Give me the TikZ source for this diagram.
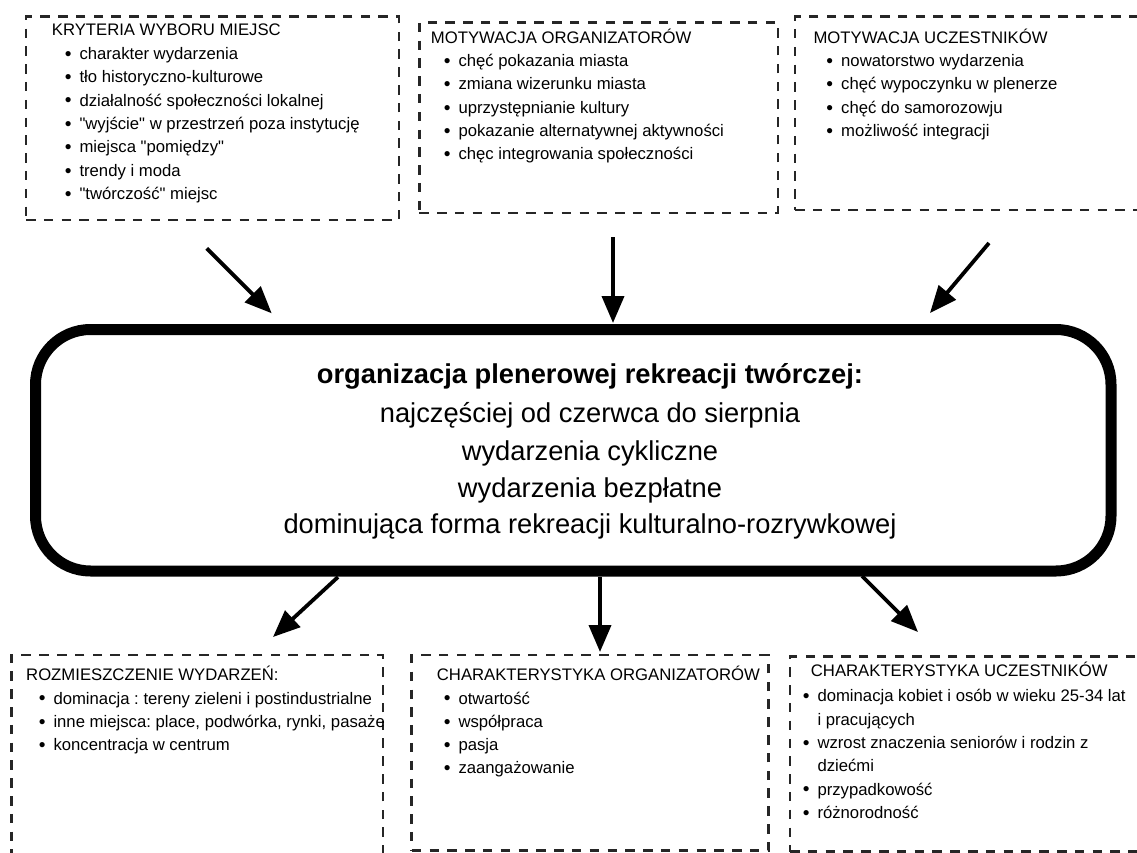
\documentclass[tikz,border=0pt]{standalone}
\usepackage{fontspec}
\setmainfont{Liberation Sans}
\usetikzlibrary{arrows.meta}
\newcommand{\blt}{\llap{\raisebox{-0.9pt}{\scalebox{1.15}{\textbullet}}\hspace{8pt}}}
\newcommand{\q}{\textquotedbl}
\frenchspacing
\begin{document}
\begin{tikzpicture}[x=1pt,y=-1pt,
  dbox/.style={draw=black!85, line width=2.6pt, dash pattern=on 9.5pt off 8.3pt, anchor=north west, inner sep=0pt, outer sep=0pt},
  txt/.style={anchor=base west, inner sep=0pt, font=\fontsize{16.7}{20}\selectfont},
  ctxt/.style={anchor=base, inner sep=0pt, font=\fontsize{27.3}{32}\selectfont},
  mainbox/.style={draw=black, line width=11pt, rounded corners=55pt, inner sep=0pt, outer sep=0pt},
  arr/.style={line width=3.8pt, -{Triangle[length=27pt,width=22pt]}}
]
\useasboundingbox (0,0) rectangle (1137,853);

% dashed boxes
\node[dbox, minimum width=373pt, minimum height=203.3pt] (b1) at (26,16.7) {};
\node[dbox, minimum width=358.7pt, minimum height=190.3pt] (b2) at (419.3,22.7) {};
\node[dbox, minimum width=360pt, minimum height=193.3pt] (b3) at (795,16.7) {};
\node[dbox, minimum width=371.3pt, minimum height=220pt] (b4) at (11.7,655) {};
\node[dbox, minimum width=356.6pt, minimum height=195.7pt] (b5) at (411.7,655) {};
\node[dbox, minimum width=360pt, minimum height=195pt] (b6) at (790,656.7) {};

% box 1
\node[txt] (h1) at (51.7,35.7) {KRYTERIA WYBORU MIEJSC};
\foreach \t [count=\i] in {charakter wydarzenia, tło historyczno-kulturowe, działalność społeczności lokalnej, \q wyjście\q{} w przestrzeń poza instytucję, miejsca \q pomiędzy\q, trendy i moda, \q twórczość\q{} miejsc}
  \node[txt] (i1-\i) at (79.3,{59.3+23.4*(\i-1)}) {\blt\t};

% box 2
\node[txt] (h2) at (430.7,43.3) {MOTYWACJA ORGANIZATORÓW};
\foreach \t [count=\i] in {chęć pokazania miasta, zmiana wizerunku miasta, uprzystępnianie kultury, pokazanie alternatywnej aktywności, chęc integrowania społeczności}
  \node[txt] (i2-\i) at (458.3,{66.7+23.3*(\i-1)}) {\blt\t};

% box 3
\node[txt] (h3) at (813.3,43.3) {MOTYWACJA UCZESTNIKÓW};
\foreach \t [count=\i] in {nowatorstwo wydarzenia, chęć wypoczynku w plenerze, chęć do samorozowju, możliwość integracji}
  \node[txt] (i3-\i) at (841,{66.7+23.3*(\i-1)}) {\blt\t};

% box 4
\node[txt] (h4) at (26,680) {ROZMIESZCZENIE WYDARZEŃ:};
\foreach \t [count=\i] in {dominacja : tereny zieleni i postindustrialne, {inne miejsca: place, podwórka, rynki, pasaże}, koncentracja w centrum}
  \node[txt] (i4-\i) at (53.3,{704+23.3*(\i-1)}) {\blt\t};

% box 5
\node[txt] (h5) at (436.7,680) {CHARAKTERYSTYKA ORGANIZATORÓW};
\foreach \t [count=\i] in {otwartość, współpraca, pasja, zaangażowanie}
  \node[txt] (i5-\i) at (458.3,{704+23.3*(\i-1)}) {\blt\t};

% box 6
\node[txt] (h6) at (810.7,676.7) {CHARAKTERYSTYKA UCZESTNIKÓW};
\node[txt] (i6-1) at (817.3,701.7) {\blt dominacja kobiet i osób w wieku 25-34 lat};
\node[txt] (i6-1b) at (817.3,725) {i pracujących};
\node[txt] (i6-2) at (817.3,748.3) {\blt wzrost znaczenia seniorów i rodzin z};
\node[txt] (i6-2b) at (817.3,771.7) {dziećmi};
\node[txt] (i6-3) at (817.3,795) {\blt przypadkowość};
\node[txt] (i6-4) at (817.3,818.3) {\blt różnorodność};

% central box
\node[mainbox, minimum width=1075.5pt, minimum height=241.5pt] (main) at (573.25,450.25) {};
\node[ctxt, font=\fontsize{27.3}{32}\selectfont\bfseries] (c0) at (590,383) {organizacja plenerowej rekreacji twórczej:};
\node[ctxt] (c1) at (590,422) {najczęściej od czerwca do sierpnia};
\node[ctxt] (c2) at (590,460) {wydarzenia cykliczne};
\node[ctxt] (c3) at (590,497) {wydarzenia bezpłatne};
\node[ctxt] (c4) at (590,533.5) {dominująca forma rekreacji kulturalno-rozrywkowej};

% arrow endpoints
\coordinate (a1s) at (206.7,248.3);
\coordinate (a1e) at (271.7,313.3);
\coordinate (a2s) at (613,237);
\coordinate (a2e) at (613,323);
\coordinate (a3s) at (989,243);
\coordinate (a3e) at (930,313);
\coordinate (a4s) at (338,577);
\coordinate (a4e) at (273,637);
\coordinate (a5s) at (600,577);
\coordinate (a5e) at (600,652);
\coordinate (a6s) at (862,576);
\coordinate (a6e) at (918,632);
\draw[arr] (a1s) -- (a1e);
\draw[arr] (a2s) -- (a2e);
\draw[arr] (a3s) -- (a3e);
\draw[arr] (a4s) -- (a4e);
\draw[arr] (a5s) -- (a5e);
\draw[arr] (a6s) -- (a6e);
\end{tikzpicture}
\end{document}
